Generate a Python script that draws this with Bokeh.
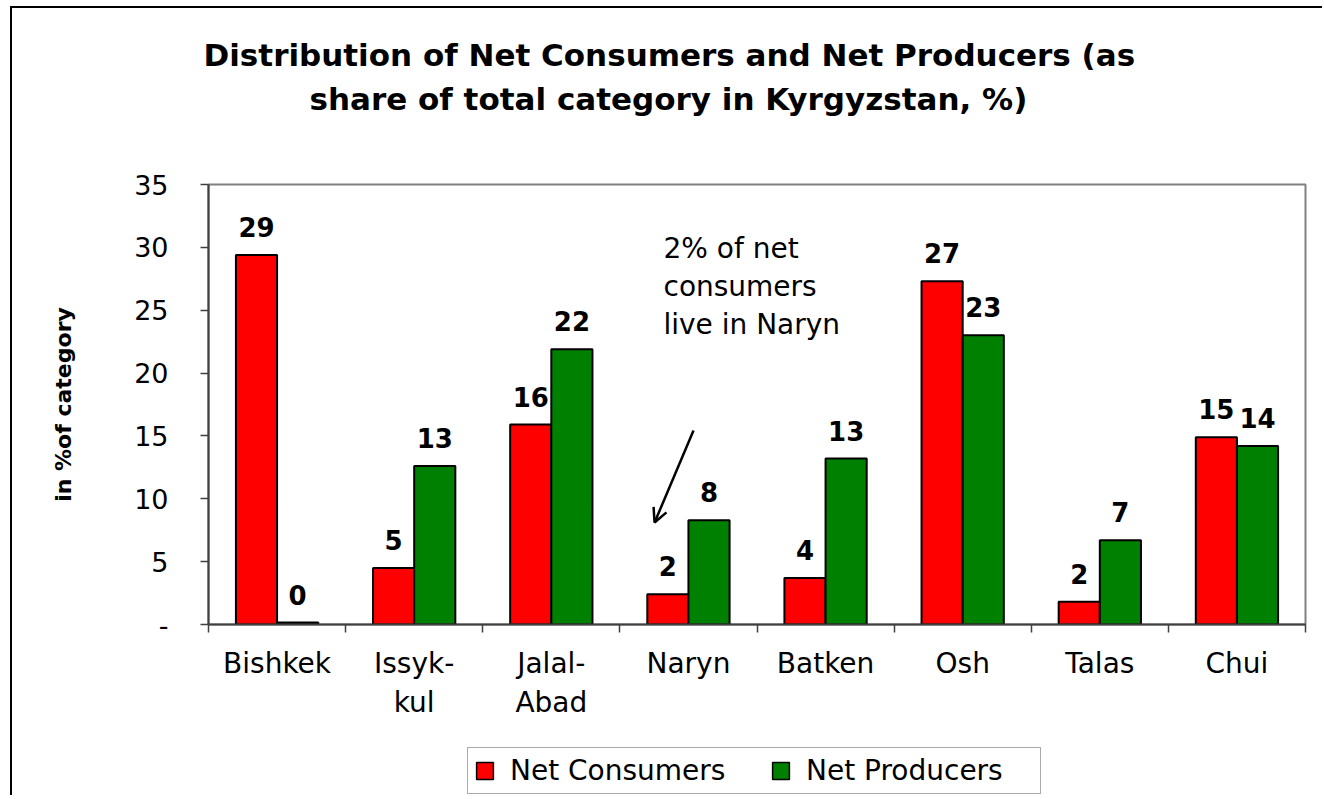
from bokeh.plotting import figure
from bokeh.layouts import column
from bokeh.models import (ColumnDataSource, FixedTicker, Legend, LegendItem,
                          Title, Arrow, OpenHead)
from bokeh.core.properties import value
from bokeh.transform import dodge
from bokeh.embed import file_html
from bokeh.resources import INLINE

# ---------------- data ----------------
categories = ["Bishkek", "Issyk-kul", "Jalal-Abad", "Naryn", "Batken", "Osh", "Talas", "Chui"]
tick_labels = ["Bishkek", "Issyk-\nkul", "Jalal-\nAbad", "Naryn", "Batken", "Osh", "Talas", "Chui"]
net_consumers = [29.4, 4.5, 15.9, 2.4, 3.7, 27.3, 1.8, 14.9]
net_producers = [0.15, 12.6, 21.9, 8.3, 13.2, 23.0, 6.7, 14.2]
consumer_labels = ["29", "5", "16", "2", "4", "27", "2", "15"]
producer_labels = ["0", "13", "22", "8", "13", "23", "7", "14"]
y_ticks = [0, 5, 10, 15, 20, 25, 30, 35]
y_tick_labels = ["-", "5", "10", "15", "20", "25", "30", "35"]
series_names = ["Net Consumers", "Net Producers"]
series_colors = ["#FF0000", "#008000"]
title_lines = ["Distribution of Net Consumers and Net Producers (as",
               "share of total category in Kyrgyzstan, %)"]
note_text = "2% of net\nconsumers\nlive in Naryn"
y_axis_title = "in %of category"

FONT = "DejaVu Sans"
W = 1310
BL, BR = 196, 17

centers = [i + 0.5 for i in range(len(categories))]
src = ColumnDataSource(dict(x=centers, cons=net_consumers, prod=net_producers,
                            clab=consumer_labels, plab=producer_labels))

p = figure(width=W, height=729, x_range=(0, len(categories)), y_range=(0, 35),
           title=None, output_backend="svg", toolbar_location=None,
           min_border_left=BL, min_border_right=BR, min_border_top=176, min_border_bottom=113)
p.background_fill_color = "white"
p.border_fill_color = "white"
p.outline_line_color = "#808080"
p.outline_line_width = 2
p.xgrid.visible = False
p.ygrid.visible = False

bar_style = dict(width=0.3, line_color="black", line_width=2)
r1 = p.vbar(x=dodge("x", -0.15, range=p.x_range), top="cons", source=src,
            fill_color=series_colors[0], **bar_style)
r2 = p.vbar(x=dodge("x", 0.15, range=p.x_range), top="prod", source=src,
            fill_color=series_colors[1], **bar_style)

for col, lab, dx in (("cons", "clab", -0.15), ("prod", "plab", 0.15)):
    p.text(x=dodge("x", dx, range=p.x_range), y=col, text=lab, source=src,
           text_align="center", text_baseline="alphabetic", y_offset=-28,
           text_font=value(FONT), text_font_style="bold", text_font_size="26px",
           text_color="black")

# x axis: labels at centers, tick marks at category boundaries
xa = p.xaxis[0]
xa.ticker = FixedTicker(ticks=centers, minor_ticks=list(range(len(categories) + 1)))
xa.major_label_overrides = {c: t for c, t in zip(centers, tick_labels)}
xa.major_tick_line_color = None
xa.major_tick_out = 0
xa.minor_tick_out = 8
xa.minor_tick_in = 0
xa.minor_tick_line_color = "#404040"
xa.minor_tick_line_width = 1.5
xa.axis_line_color = "#404040"
xa.axis_line_width = 2
xa.major_label_standoff = 14
xa.major_label_text_font = FONT
xa.major_label_text_font_size = "28px"
xa.major_label_text_color = "black"

ya = p.yaxis[0]
ya.ticker = FixedTicker(ticks=y_ticks)
ya.major_label_overrides = {t: l for t, l in zip(y_ticks, y_tick_labels)}
ya.minor_tick_line_color = None
ya.major_tick_out = 8
ya.major_tick_in = 0
ya.major_tick_line_color = "#404040"
ya.major_tick_line_width = 1.5
ya.axis_line_color = "#404040"
ya.axis_line_width = 2
ya.major_label_standoff = 32
ya.major_label_text_font = FONT
ya.major_label_text_font_size = "27px"
ya.major_label_text_color = "black"
ya.axis_label = y_axis_title
ya.axis_label_text_font = FONT
ya.axis_label_text_font_style = "bold"
ya.axis_label_text_font_size = "22px"
ya.axis_label_text_color = "black"
ya.axis_label_standoff = 55

# title: spacer (closest to frame), then line 2, then line 1 (outermost)
p.add_layout(Title(text=" ", text_font_size="1px", standoff=65), "above")
p.add_layout(Title(text=title_lines[1], align="left", offset=101, vertical_align="bottom",
                   standoff=0, text_font=FONT, text_font_style="bold",
                   text_font_size="31px", text_color="black"), "above")
p.add_layout(Title(text=title_lines[0], align="left", offset=-5, vertical_align="bottom",
                   standoff=12, text_font=FONT, text_font_style="bold",
                   text_font_size="31px", text_color="black"), "above")

# annotation
p.text(x=[3.318], y=[31.2], text=[note_text], text_align="left", text_baseline="top",
       text_font=value(FONT), text_font_size="28px", text_line_height=1.15,
       text_color="black")
p.add_layout(Arrow(x_start=3.537, y_start=15.43, x_end=3.253, y_end=8.11,
                   line_color="black", line_width=2.5,
                   end=OpenHead(size=14, line_color="black", line_width=2.5)))

# legend in its own strip below the chart (frame aligned with the chart's frame);
# the proxy renderers are hidden, only their legend swatches are drawn
lf = figure(width=W, height=50, x_range=(0, len(categories)), y_range=(0, 35),
            x_axis_type=None, y_axis_type=None, output_backend="svg", title=None,
            toolbar_location=None, min_border_left=BL, min_border_right=BR,
            min_border_top=0, min_border_bottom=0)
lf.outline_line_color = None
lf.xgrid.visible = False
lf.ygrid.visible = False
d1 = lf.vbar(x="x", top="cons", source=src, fill_color=series_colors[0],
             width=0.3, line_color="black", line_width=1.5, visible=False)
d2 = lf.vbar(x="x", top="prod", source=src, fill_color=series_colors[1],
             width=0.3, line_color="black", line_width=1.5, visible=False)
legend = Legend(items=[LegendItem(label=series_names[0], renderers=[d1]),
                       LegendItem(label=series_names[1], renderers=[d2])],
                orientation="horizontal", location=(259, 1), click_policy="none")
legend.label_text_font = FONT
legend.label_text_font_size = "28px"
legend.label_text_color = "black"
legend.label_width = 228
legend.glyph_width = 21
legend.glyph_height = 21
legend.label_standoff = 15
legend.spacing = 32
legend.padding = 6
legend.margin = 0
legend.border_line_color = "#555555"
legend.border_line_width = 1.5
lf.add_layout(legend)
lf.margin = (8, 0, 0, 0)

layout = column(p, lf, spacing=0)
layout.styles = {"border-left": "2px solid black", "border-top": "2px solid black",
                 "margin-left": "10px", "margin-top": "6px"}

open("out.html", "w").write(file_html(layout, INLINE))
